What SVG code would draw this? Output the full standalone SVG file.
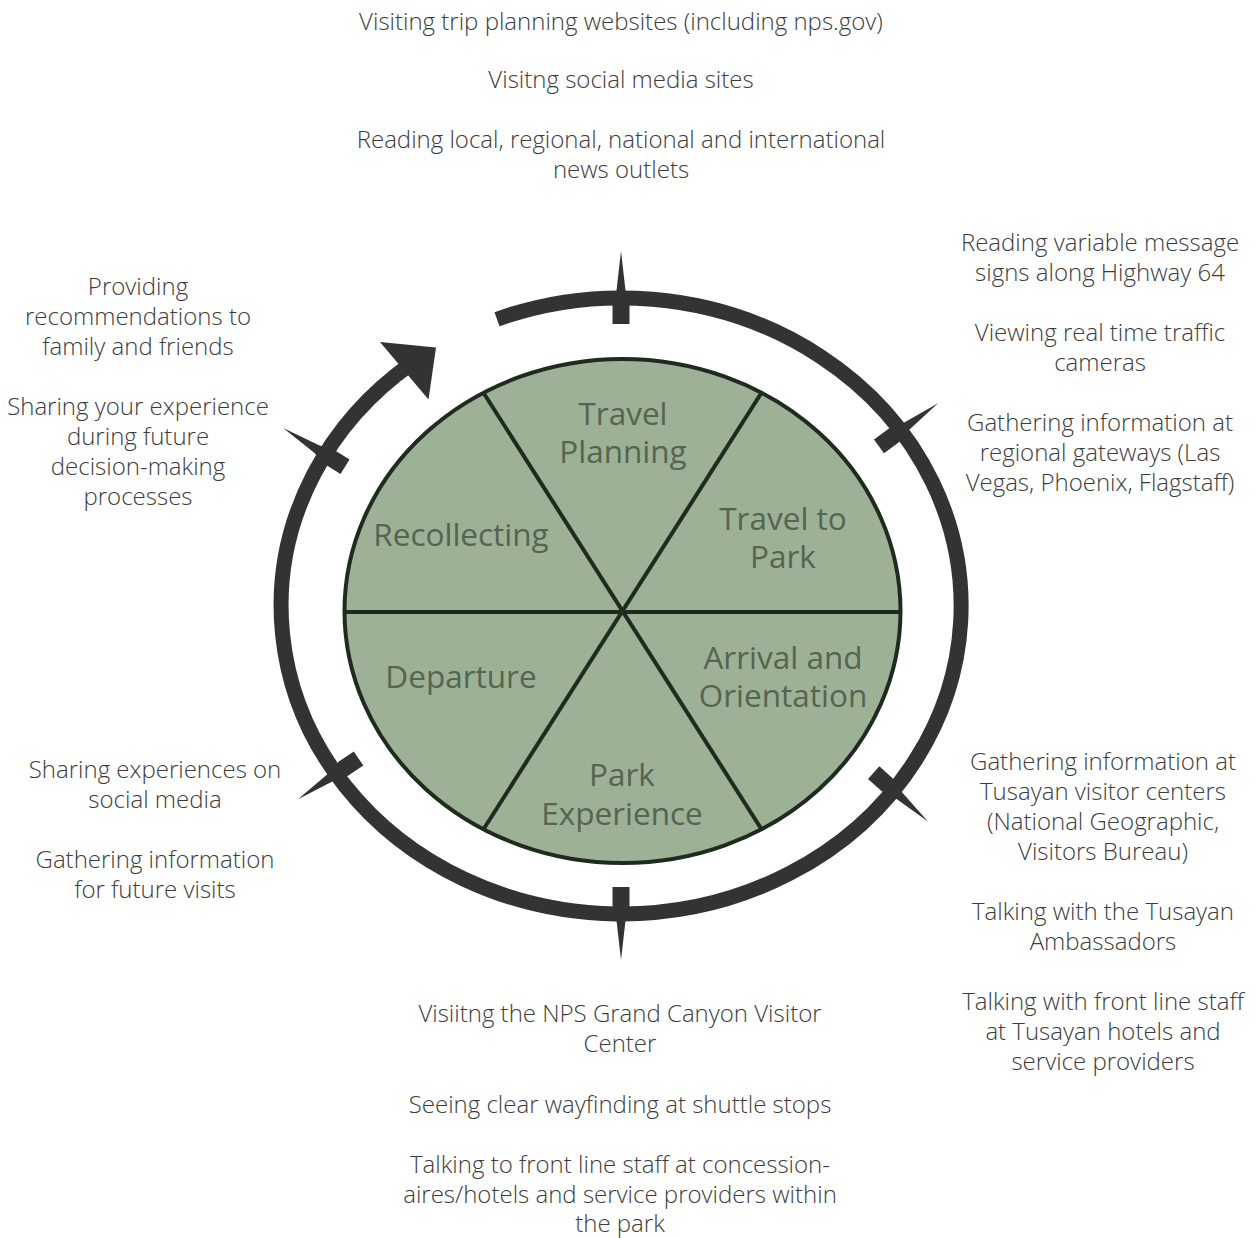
<svg xmlns="http://www.w3.org/2000/svg" width="1257" height="1238" viewBox="0 0 1257 1238">
<style>
.t{font-family:"Open Sans","Liberation Sans",sans-serif;font-size:24px;font-weight:300;fill:#3c3c3c;text-anchor:middle}
.p{font-family:"Open Sans","Liberation Sans",sans-serif;font-size:31.5px;fill:#55654f;text-anchor:middle}
.ring{fill:none;stroke:#333333;stroke-width:15}
.div{stroke:#1f2b1f;stroke-width:4;fill:none}
</style>
<defs>
<polygon id="tick" points="-8.5,26 8.5,26 8.5,7.5 4.5,-7.5 0,-47 -4.5,-7.5 -8.5,7.5" fill="#333333"/>
</defs>
<rect width="1257" height="1238" fill="#ffffff"/>
<g id="cycle">
<path class="ring" d="M 497 319.2 A 340 308 0 1 1 411.7 363.3"/>
<polygon points="380,342 436,347.5 428.5,399.5" fill="#333333"/>
<use href="#tick" transform="translate(621,298)"/>
<use href="#tick" transform="translate(900,431) rotate(54)"/>
<use href="#tick" transform="translate(893,790) rotate(132)"/>
<use href="#tick" transform="translate(621,913) rotate(180)"/>
<use href="#tick" transform="translate(337,773) rotate(-124)"/>
<use href="#tick" transform="translate(323,453) rotate(-58)"/>
</g>
<g id="wheel">
<ellipse cx="622.5" cy="611" rx="278" ry="252" fill="#9cb196" stroke="#1f2b1f" stroke-width="4"/>
<line class="div" x1="345" y1="612" x2="900" y2="612"/>
<line class="div" x1="483.5" y1="392.8" x2="761.5" y2="829.2"/>
<line class="div" x1="761.5" y1="392.8" x2="483.5" y2="829.2"/>
</g>
<g id="travel-planning"><text class="p" x="623" y="425">Travel</text><text class="p" x="623" y="463">Planning</text></g>
<g id="travel-to-park"><text class="p" x="783" y="530">Travel to</text><text class="p" x="783" y="568">Park</text></g>
<g id="arrival"><text class="p" x="783" y="669">Arrival and</text><text class="p" x="783" y="707">Orientation</text></g>
<g id="park-experience"><text class="p" x="622" y="786">Park</text><text class="p" x="622" y="825">Experience</text></g>
<g id="departure"><text class="p" x="461" y="688">Departure</text></g>
<g id="recollecting"><text class="p" x="461" y="546">Recollecting</text></g>
<g id="notes-top">
<text class="t" x="621" y="30">Visiting trip planning websites (including nps.gov)</text>
<text class="t" x="621" y="88">Visitng social media sites</text>
<text class="t" x="621" y="148">Reading local, regional, national and international</text>
<text class="t" x="621" y="178">news outlets</text>
</g>
<g id="notes-top-right">
<text class="t" x="1100" y="251">Reading variable message</text>
<text class="t" x="1100" y="281">signs along Highway 64</text>
<text class="t" x="1100" y="341">Viewing real time traffic</text>
<text class="t" x="1100" y="371">cameras</text>
<text class="t" x="1100" y="431">Gathering information at</text>
<text class="t" x="1100" y="461">regional gateways (Las</text>
<text class="t" x="1100" y="491">Vegas, Phoenix, Flagstaff)</text>
</g>
<g id="notes-bottom-right">
<text class="t" x="1103" y="770">Gathering information at</text>
<text class="t" x="1103" y="800">Tusayan visitor centers</text>
<text class="t" x="1103" y="830">(National Geographic,</text>
<text class="t" x="1103" y="860">Visitors Bureau)</text>
<text class="t" x="1103" y="920">Talking with the Tusayan</text>
<text class="t" x="1103" y="950">Ambassadors</text>
<text class="t" x="1103" y="1010">Talking with front line staff</text>
<text class="t" x="1103" y="1040">at Tusayan hotels and</text>
<text class="t" x="1103" y="1070">service providers</text>
</g>
<g id="notes-bottom">
<text class="t" x="620" y="1022">Visiitng the NPS Grand Canyon Visitor</text>
<text class="t" x="620" y="1052">Center</text>
<text class="t" x="620" y="1113">Seeing clear wayfinding at shuttle stops</text>
<text class="t" x="620" y="1173">Talking to front line staff at concession-</text>
<text class="t" x="620" y="1203">aires/hotels and service providers within</text>
<text class="t" x="620" y="1232">the park</text>
</g>
<g id="notes-bottom-left">
<text class="t" x="155" y="778">Sharing experiences on</text>
<text class="t" x="155" y="808">social media</text>
<text class="t" x="155" y="868">Gathering information</text>
<text class="t" x="155" y="898">for future visits</text>
</g>
<g id="notes-top-left">
<text class="t" x="138" y="295">Providing</text>
<text class="t" x="138" y="325">recommendations to</text>
<text class="t" x="138" y="355">family and friends</text>
<text class="t" x="138" y="415">Sharing your experience</text>
<text class="t" x="138" y="445">during future</text>
<text class="t" x="138" y="475">decision-making</text>
<text class="t" x="138" y="505">processes</text>
</g>
</svg>
